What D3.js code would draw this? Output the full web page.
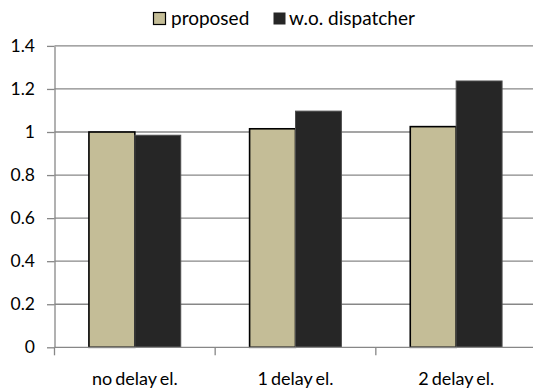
<!DOCTYPE html>
<html>
<head>
<meta charset="utf-8">
<script src="https://cdn.jsdelivr.net/npm/d3@7"></script>
<style>
  html, body { margin: 0; padding: 0; background: #fff; }
  svg { display: block; }
  text { font-family: Lato, "Noto Sans", sans-serif; fill: #000; }
</style>
</head>
<body>
<svg id="chart" width="533" height="392"></svg>
<script>
// Normalised results per configuration
const categories = ["no delay el.", "1 delay el.", "2 delay el."];
const seriesNames = ["proposed", "w.o. dispatcher"];
const proposed = [1.0, 1.015, 1.025];
const withoutDispatcher = [0.985, 1.097, 1.237];
const yTicks = [0, 0.2, 0.4, 0.6, 0.8, 1, 1.2, 1.4];
const yTickLabels = ["0", "0.2", "0.4", "0.6", "0.8", "1", "1.2", "1.4"];

const seriesValues = [proposed, withoutDispatcher];
const fills = ["#C4BD97", "#262626"];
const strokes = ["#000000", "#4d4d4d"];
const strokeWidths = [1.6, 1];
const gridColor = "#878787";

const svg = d3.select("#chart");
const plotLeft = 54.5, plotRight = 536.5, plotTop = 45.9, plotBottom = 347.3;

const x = d3.scaleBand().domain(categories).range([plotLeft, plotRight]).padding(0);
const xSub = d3.scaleBand().domain(seriesNames).range([0, x.bandwidth()])
  .paddingInner(0).paddingOuter(0.75);
const y = d3.scaleLinear().domain([0, 1.4]).range([plotBottom, plotTop]);

// Horizontal gridlines
svg.append("g")
  .selectAll("line")
  .data(yTicks.filter(d => d > 0))
  .join("line")
  .attr("x1", plotLeft).attr("x2", 533)
  .attr("y1", d => y(d)).attr("y2", d => y(d))
  .attr("stroke", gridColor).attr("stroke-width", 1.3);

// Y axis with outward ticks
const yAxis = d3.axisLeft(y)
  .tickValues(yTicks)
  .tickFormat((d, i) => yTickLabels[i])
  .tickSize(7.5)
  .tickPadding(12)
  .tickSizeOuter(0);
const gy = svg.append("g").attr("transform", `translate(${plotLeft},0)`).call(yAxis);
gy.select(".domain").attr("stroke", gridColor).attr("stroke-width", 1.3);
gy.selectAll(".tick line").attr("stroke", gridColor).attr("stroke-width", 1.3);
gy.selectAll(".tick text")
  .attr("font-family", "Lato, 'Noto Sans', sans-serif")
  .attr("font-size", 17.5).attr("fill", "#000");

// Bars
const groups = svg.append("g")
  .selectAll("g")
  .data(seriesNames)
  .join("g");

groups.each(function (name, si) {
  d3.select(this).selectAll("rect")
    .data(categories.map((c, ci) => ({ c, v: seriesValues[si][ci] })))
    .join("rect")
    .attr("x", d => x(d.c) + xSub(name))
    .attr("width", xSub.bandwidth())
    .attr("y", d => y(d.v))
    .attr("height", d => y(0) - y(d.v))
    .attr("fill", fills[si])
    .attr("stroke", strokes[si])
    .attr("stroke-width", strokeWidths[si]);
});

// X axis: baseline with ticks at category boundaries
const gx = svg.append("g");
gx.append("line")
  .attr("x1", plotLeft).attr("x2", 533)
  .attr("y1", y(0)).attr("y2", y(0))
  .attr("stroke", gridColor).attr("stroke-width", 1.3);
gx.selectAll("line.tick")
  .data(categories)
  .join("line")
  .attr("class", "tick")
  .attr("x1", d => x(d)).attr("x2", d => x(d))
  .attr("y1", y(0)).attr("y2", y(0) + 8)
  .attr("stroke", gridColor).attr("stroke-width", 1.3);
gx.selectAll("text")
  .data(categories)
  .join("text")
  .attr("x", d => x(d) + x.bandwidth() / 2)
  .attr("y", 385)
  .attr("text-anchor", "middle")
  .attr("font-size", 18)
  .attr("word-spacing", -1.5)
  .text(d => d);

// Legend
const legendItems = [
  { name: seriesNames[0], sx: 153.5, tx: 171 },
  { name: seriesNames[1], sx: 273.5, tx: 289 }
];
const lg = svg.append("g");
legendItems.forEach((it, i) => {
  lg.append("rect")
    .attr("x", it.sx).attr("y", 12.5)
    .attr("width", 12).attr("height", 12)
    .attr("fill", fills[i])
    .attr("stroke", i === 0 ? "#000" : "none")
    .attr("stroke-width", 1.2);
  lg.append("text")
    .attr("x", it.tx).attr("y", 25)
    .attr("font-size", 19)
    .text(it.name);
});
</script>
</body>
</html>
